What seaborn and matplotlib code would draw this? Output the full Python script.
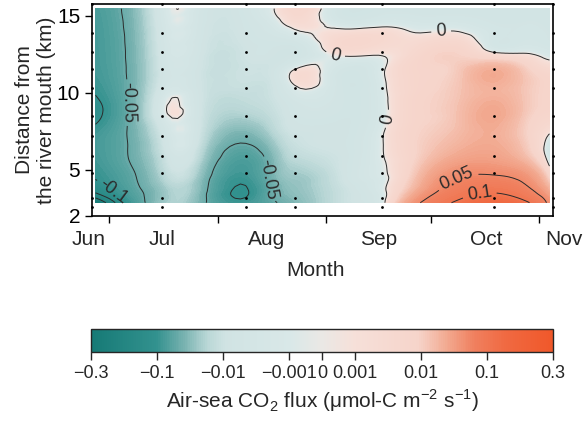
import numpy as np
import pandas as pd
import seaborn as sns
import matplotlib
matplotlib.use('Agg')
import matplotlib.pyplot as plt
import matplotlib.dates as mdates
import matplotlib.tri as mtri
from matplotlib.colors import LinearSegmentedColormap, FuncNorm
from matplotlib.cm import ScalarMappable
from matplotlib.ticker import FixedLocator, NullFormatter

# flux map: grid of dates x distances
grid_dates = ['2019-06-27', '2019-07-06', '2019-07-16', '2019-07-28', '2019-08-09', '2019-08-16',
              '2019-08-23', '2019-09-05', '2019-09-17', '2019-09-28', '2019-10-09', '2019-10-19',
              '2019-10-28', '2019-11-04']
grid_km = [2.86, 3.5, 4.5, 5.5, 6.5, 7.5, 8.5, 9.5, 10.5, 11.5, 12.5, 13.5, 14.5, 15.45]
# one list per date, from the river mouth outwards
flux_by_date = [
    [-0.26, -0.15, -0.098, -0.085, -0.078, -0.088, -0.112, -0.106, -0.09, -0.082, -0.08, -0.079, -0.078, -0.075],
    [-0.1, -0.075, -0.062, -0.053, -0.051, -0.05, -0.052, -0.052, -0.05, -0.049, -0.048, -0.047, -0.045, -0.043],
    [-0.026, -0.028, -0.02, -0.015, -0.011, -0.008, -0.003, -0.003, -0.007, -0.008, -0.007, -0.006, -0.005, -0.004],
    [-0.045, -0.043, -0.036, -0.026, -0.018, -0.013, -0.011, -0.01, -0.01, -0.01, -0.009, -0.008, -0.007, -0.006],
    [-0.085, -0.104, -0.088, -0.075, -0.055, -0.035, -0.02, -0.014, -0.011, -0.01, -0.009, -0.008, -0.007, -0.006],
    [-0.058, -0.053, -0.045, -0.042, -0.032, -0.02, -0.014, -0.011, -0.01, -0.009, -0.008, -0.006, -0.003, -0.001],
    [-0.035, -0.03, -0.025, -0.018, -0.012, -0.009, -0.007, -0.005, 0.0001, 0.0001, -0.008, -0.004, 0.002, 0.005],
    [-0.012, -0.012, -0.01, -0.009, -0.008, -0.008, -0.007, -0.006, -0.006, -0.005, 0.001, 0.004, -0.003, -0.006],
    [-0.002, -0.002, -0.0015, -0.0008, -0.0004, -0.0008, -0.002, -0.002, -0.0015, -0.001, 0.0005, 0.004, -0.002, -0.006],
    [0.05, 0.03, 0.018, 0.012, 0.01, 0.009, 0.008, 0.008, 0.007, 0.007, 0.006, 0.002, -0.003, -0.006],
    [0.11, 0.08, 0.05, 0.03, 0.02, 0.016, 0.015, 0.014, 0.013, 0.012, 0.009, 0.003, -0.003, -0.006],
    [0.14, 0.1, 0.055, 0.032, 0.024, 0.022, 0.025, 0.022, 0.021, 0.022, 0.002, -0.004, -0.005, -0.006],
    [0.11, 0.07, 0.04, 0.02, 0.012, 0.01, 0.012, 0.013, 0.013, 0.011, 0.0005, -0.004, -0.005, -0.006],
    [0.04, 0.025, 0.008, -0.002, -0.004, 0.001, 0.006, 0.008, 0.008, 0.004, -0.002, -0.005, -0.006, -0.006],
]

# sampling stations (black dots)
survey_dates = ['2019-06-26', '2019-07-16', '2019-08-09', '2019-08-23', '2019-09-17', '2019-10-19', '2019-11-05']
station_km = [2.58, 3.16, 4.79, 5.91, 7.17, 8.47, 10.31, 11.56, 12.64, 13.88, 15.73]

month_names = ['Jun', 'Jul', 'Aug', 'Sep', 'Oct', 'Nov']
month_starts = ['2019-07-01', '2019-08-01', '2019-09-01', '2019-10-01', '2019-11-01']
label_levels = [-0.1, -0.05, 0, 0.05, 0.1]
extra_levels = [-0.2, -0.15]
cbar_ticks = [-0.3, -0.1, -0.01, -0.001, 0, 0.001, 0.01, 0.1, 0.3]
cbar_ticklabels = ['\u22120.3', '\u22120.1', '\u22120.01', '\u22120.001', '0', '0.001', '0.01', '0.1', '0.3']

# where the text sits (not data)
month_label_dates = ['2019-06-25', '2019-07-16', '2019-08-15', '2019-09-16', '2019-10-17', '2019-11-08']
clabel_spots = [('2019-07-06', 9.35), ('2019-07-02', 3.57), ('2019-08-15', 4.35), ('2019-09-03', 12.0),
                ('2019-10-04', 13.9), ('2019-09-20', 8.25), ('2019-10-09', 4.2), ('2019-10-15', 3.4)]


def to_num(d):
    return mdates.date2num(pd.to_datetime(d).to_numpy())


# piecewise log-like colour scale, ticks evenly spaced as in the colour bar
knot_log = np.log10([0.001, 0.01, 0.1, 0.3])
knot_pos = np.array([1.0, 3.0, 5.0, 7.0])


def fwd(v):
    v = np.asarray(v, dtype=float)
    a = np.abs(v)
    p = np.where(a < 0.001, a / 0.001, np.interp(np.log10(np.maximum(a, 1e-9)), knot_log, knot_pos))
    return np.sign(v) * p + 7.0


def inv(p):
    p = np.asarray(p, dtype=float) - 7.0
    a = np.abs(p)
    v = np.where(a < 1, a * 0.001, 10 ** np.interp(a, knot_pos, knot_log))
    return np.sign(p) * v


norm = FuncNorm((fwd, inv), vmin=-0.3, vmax=0.3)
nodes = [
    (0.00, (22, 122, 118)), (0.14, (50, 145, 142)), (0.20, (120, 178, 176)),
    (0.25, (185, 215, 214)), (0.29, (208, 227, 227)), (0.43, (217, 232, 232)),
    (0.50, (234, 232, 229)), (0.57, (246, 224, 217)), (0.71, (246, 212, 202)),
    (0.77, (242, 170, 145)), (0.83, (240, 128, 95)), (0.90, (240, 105, 65)),
    (1.00, (240, 88, 42)),
]
cmap = LinearSegmentedColormap.from_list('flux', [(p, tuple(c / 255 for c in rgb)) for p, rgb in nodes], N=256)

sns.set_theme(style='ticks')
plt.rcParams['font.family'] = ['Liberation Sans', 'DejaVu Sans']
plt.rcParams['axes.unicode_minus'] = True

# triangulated grid, smoothed by matplotlib's cubic refiner
x_grid = to_num(grid_dates)
gx, gy = np.meshgrid(x_grid, grid_km)
z = np.array(flux_by_date).T
ny, nx = gx.shape
tris = []
for j in range(ny - 1):
    for i in range(nx - 1):
        k = j * nx + i
        tris.append([k, k + 1, k + nx + 1])
        tris.append([k, k + nx + 1, k + nx])
x0 = x_grid[0]
ysc = 4.4
tri_s = mtri.Triangulation(gx.ravel() - x0, gy.ravel() * ysc, tris)
fine_s, z_fine = mtri.UniformTriRefiner(tri_s).refine_field(z.ravel(), subdiv=3)
fine = mtri.Triangulation(fine_s.x + x0, fine_s.y / ysc, fine_s.triangles)

fig = plt.figure(figsize=(5.83, 4.25), dpi=100)
ax = fig.add_axes([0.1578, 0.4918, 0.7907, 0.4988])

fill_levels = inv(np.linspace(0, 14, 221))
ax.tricontourf(fine, z_fine, levels=fill_levels, cmap=cmap, norm=norm, extend='both', antialiased=False)
ax.tricontour(fine, z_fine, levels=extra_levels, colors='#2b2b2b', linewidths=0.7, linestyles='solid')
cs = ax.tricontour(fine, z_fine, levels=label_levels, colors='#2b2b2b', linewidths=0.7, linestyles='solid')
spots = [(to_num(d), km) for d, km in clabel_spots]
ax.clabel(cs, manual=spots, inline=True, fontsize=13, fmt=lambda v: f'{v:g}')

stations = pd.DataFrame([(to_num(d), km) for d in survey_dates for km in station_km], columns=['date', 'km'])
sns.scatterplot(data=stations, x='date', y='km', ax=ax, color='black', s=4, linewidth=0,
                marker='o', zorder=5, clip_on=False, legend=False)

ax.set_xlim(to_num(survey_dates[0]), to_num(survey_dates[-1]))
ax.set_ylim(2, 15.75)
ax.set_yticks([2, 5, 10, 15])
ax.xaxis.set_major_locator(FixedLocator(to_num(month_starts)))
ax.xaxis.set_major_formatter(NullFormatter())
ax.tick_params(direction='out', length=5, width=1, labelsize=15, color='black', labelcolor='black')
for s in ax.spines.values():
    s.set_visible(True)
    s.set_linewidth(1.2)
    s.set_color('black')
for name, d in zip(month_names, month_label_dates):
    ax.text(to_num(d), -0.113, name, transform=ax.get_xaxis_transform(), ha='center', va='center',
            fontsize=15, clip_on=False)
ax.set_xlabel('Month', fontsize=15, va='center')
ax.xaxis.set_label_coords(0.484, -0.255)
ax.set_ylabel('Distance from\nthe river mouth (km)', fontsize=15, va='center', ha='center')
ax.yaxis.set_label_coords(-0.122, 0.5)

cax = fig.add_axes([0.1561, 0.1718, 0.7925, 0.0541])
cb = fig.colorbar(ScalarMappable(norm=norm, cmap=cmap), cax=cax, orientation='horizontal')
cb.set_ticks(cbar_ticks)
cb.set_ticklabels(cbar_ticklabels)
cb.ax.tick_params(length=6, width=1, labelsize=13, direction='out')
cb.ax.minorticks_off()
cb.outline.set_linewidth(1)
cb.set_label('Air-sea CO$_\\mathregular{2}$ flux (\u03bcmol-C m$^\\mathregular{-2}$ s$^\\mathregular{-1}$)', fontsize=15)

fig.savefig('out.png', dpi=100)
